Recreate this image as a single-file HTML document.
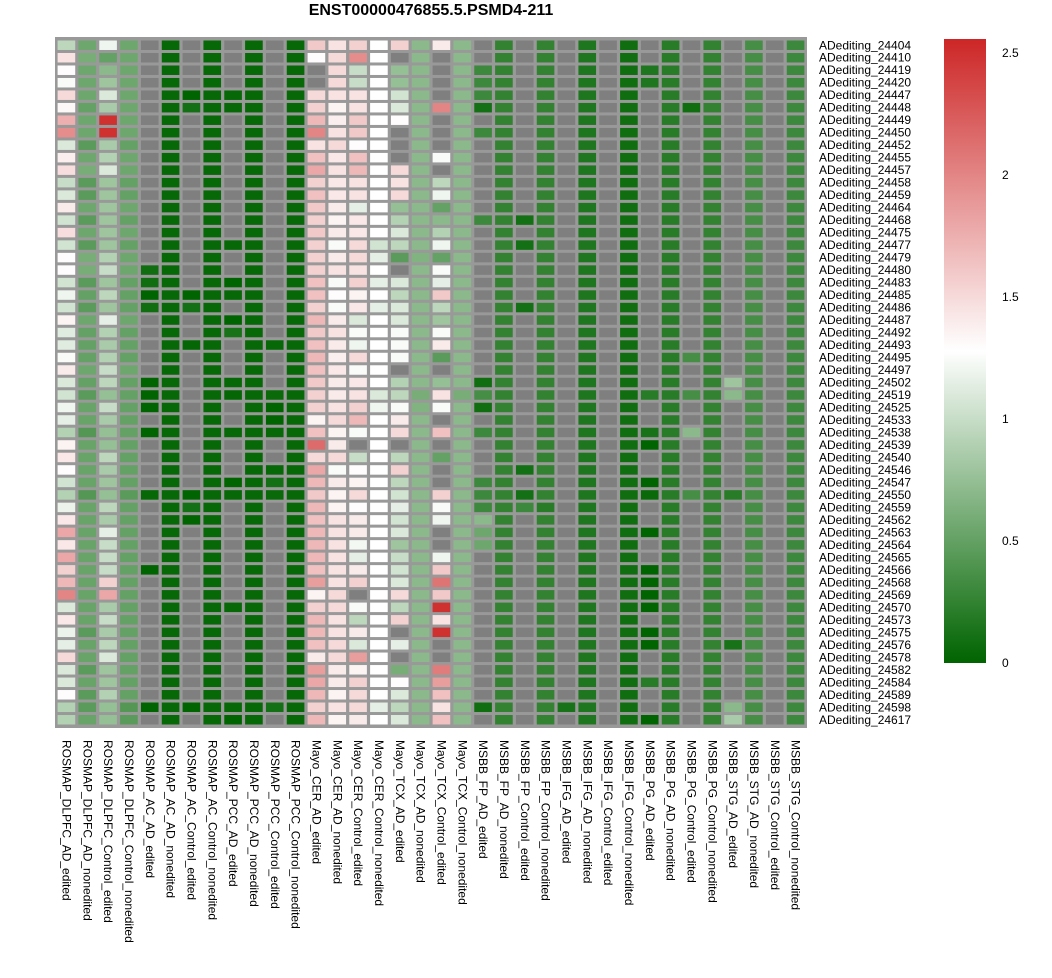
<!DOCTYPE html>
<html><head><meta charset="utf-8"><style>
html,body{margin:0;padding:0;background:#fff;}
svg{display:block;font-family:"Liberation Sans",Arial,sans-serif;}
</style></head><body>
<svg id="chart" width="1052" height="978" viewBox="0 0 1052 978">
<text x="431" y="15" text-anchor="middle" font-size="16" font-weight="bold" fill="#000">ENST00000476855.5.PSMD4-211</text>
<rect x="55" y="37" width="752" height="691" fill="#999999"/>
<g id="cells"></g><g id="rowlabels"></g><g id="collabels"></g><g id="legend"></g>
</svg>
<script>
const N = null;
const rowNames = ["ADediting_24404","ADediting_24410","ADediting_24419","ADediting_24420","ADediting_24447","ADediting_24448","ADediting_24449","ADediting_24450","ADediting_24452","ADediting_24455","ADediting_24457","ADediting_24458","ADediting_24459","ADediting_24464","ADediting_24468","ADediting_24475","ADediting_24477","ADediting_24479","ADediting_24480","ADediting_24483","ADediting_24485","ADediting_24486","ADediting_24487","ADediting_24492","ADediting_24493","ADediting_24495","ADediting_24497","ADediting_24502","ADediting_24519","ADediting_24525","ADediting_24533","ADediting_24538","ADediting_24539","ADediting_24540","ADediting_24546","ADediting_24547","ADediting_24550","ADediting_24559","ADediting_24562","ADediting_24563","ADediting_24564","ADediting_24565","ADediting_24566","ADediting_24568","ADediting_24569","ADediting_24570","ADediting_24573","ADediting_24575","ADediting_24576","ADediting_24578","ADediting_24582","ADediting_24584","ADediting_24589","ADediting_24598","ADediting_24617"];
const colNames = ["ROSMAP_DLPFC_AD_edited","ROSMAP_DLPFC_AD_nonedited","ROSMAP_DLPFC_Control_edited","ROSMAP_DLPFC_Control_nonedited","ROSMAP_AC_AD_edited","ROSMAP_AC_AD_nonedited","ROSMAP_AC_Control_edited","ROSMAP_AC_Control_nonedited","ROSMAP_PCC_AD_edited","ROSMAP_PCC_AD_nonedited","ROSMAP_PCC_Control_edited","ROSMAP_PCC_Control_nonedited","Mayo_CER_AD_edited","Mayo_CER_AD_nonedited","Mayo_CER_Control_edited","Mayo_CER_Control_nonedited","Mayo_TCX_AD_edited","Mayo_TCX_AD_nonedited","Mayo_TCX_Control_edited","Mayo_TCX_Control_nonedited","MSBB_FP_AD_edited","MSBB_FP_AD_nonedited","MSBB_FP_Control_edited","MSBB_FP_Control_nonedited","MSBB_IFG_AD_edited","MSBB_IFG_AD_nonedited","MSBB_IFG_Control_edited","MSBB_IFG_Control_nonedited","MSBB_PG_AD_edited","MSBB_PG_AD_nonedited","MSBB_PG_Control_edited","MSBB_PG_Control_nonedited","MSBB_STG_AD_edited","MSBB_STG_AD_nonedited","MSBB_STG_Control_edited","MSBB_STG_Control_nonedited"];
const legendTicks = [0,0.5,1,1.5,2,2.5];
const legendTickLabels = ["0","0.5","1","1.5","2","2.5"];
const colValues = [
[0.95,1.45,1.3,1.25,1.5, 1.32,1.75,1.95,1.1,1.38, 1.48,1.0,1.1,1.4,1.05, 1.48,1.05,1.3,1.3,1.05, 1.2,1.05,1.35,1.12,1.12, 1.25,1.4,1.1,1.05,1.2, 1.15,0.9,1.35,1.42,1.3, 1.05,0.9,1.18,1.42,1.8, 1.42,1.8,1.55,1.7,2.0, 1.1,1.42,1.18,1.15,1.5, 1.1,1.1,1.3,0.9,0.9],
[.55,.6,.55,.55,.55, .5,.55,.55,.45,.55, .6,.45,.45,.55,.45, .55,.45,.6,.6,.45, .5,.45,.55,.5,.5, .5,.55,.5,.45,.52, .52,.42,.52,.52,.52, .52,.42,.52,.52,.52, .52,.52,.52,.52,.52, .52,.52,.45,.52,.52, .45,.52,.45,.45,.52].concat([]).slice(0,55),
[1.2,.5,.7,.8,1.1, .85,2.5,2.5,.85,.9, 1.1,.8,.8,.8,.8, .8,.8,.9,1.0,.8, .95,.8,1.15,.9,.85, .9,1.0,.95,.75,1.0, .85,.75,.75,.95,.85, .8,.75,.95,.85,1.15, 1.0,1.0,1.0,1.55,1.8, .85,1.0,.85,.95,1.1, .8,.8,.9,.75,.75],
[.55,.55,.55,.55,.55, .55,.55,.55,.5,.55, .55,.5,.5,.55,.5, .55,.5,.55,.55,.5, .5,.5,.55,.5,.5, .5,.55,.5,.5,.5, .5,.5,.5,.5,.5, .5,.45,.5,.5,.5, .5,.5,.5,.5,.5, .5,.5,.5,.5,.5, .5,.5,.5,.42,.45],
[N,N,N,N,N, N,N,N,N,N, N,N,N,N,N, N,N,N,.08,.08, 0,.08,N,N,N, N,N,0,0,0, N,0,N,N,N, N,.03,N,N,N, N,N,0,N,N, N,N,N,N,N, N,N,N,0,N],
[.03,.03,.03,.03,.03, .03,.03,.03,.03,.03, .03,.03,.03,.03,.03, .03,.03,.03,.03,.03, .03,.03,.03,.03,.03, .03,.03,.03,.03,.03, .03,.03,.03,.03,.03, .03,.03,.03,.03,.03, .03,.03,.03,.03,.03, .03,.03,.03,.03,.03, .03,.03,.03,.03,.03],
[N,N,N,N,0, .1,N,N,N,N, N,N,N,N,N, N,N,N,N,N, 0,.1,N,N,.02, N,N,N,N,N, N,N,N,N,N, N,0,.1,0,N, N,N,N,N,N, N,N,N,N,N, N,N,N,0,N],
[.03,.03,.03,.03,.03, .03,.03,.03,.03,.03, .03,.03,.03,.03,.03, .03,.03,.03,.03,.03, .03,.03,.03,.03,.03, .03,.03,.03,.03,.03, .03,.03,.03,.03,.03, .03,.03,.03,.03,.03, .03,.03,.03,.03,.03, .03,.03,.03,.03,.03, .03,.03,.03,.03,.03],
[N,N,N,N,.03, .03,N,N,N,N, N,N,N,N,N, N,.03,N,N,0, .03,N,0,.12,N, N,N,.03,.02,N, N,.03,N,N,N, 0,.03,N,N,N, N,N,N,N,N, .03,N,N,N,N, N,N,N,.03,0],
[.03,.03,.03,.03,.03, .03,.03,.03,.03,.03, .03,.03,.03,.03,.03, .03,.03,.03,.03,.03, .03,.03,.03,.03,.03, .03,.03,.03,.03,.03, .03,.03,.03,.03,.03, .03,.03,.03,.03,.03, .03,.03,.03,.03,.03, .03,.03,.03,.03,.03, .03,.03,.03,.03,.03],
[N,N,N,N,N, N,N,N,N,N, N,N,N,N,N, N,N,N,N,N, N,N,N,N,.03, N,N,N,.05,0, 0,.03,N,N,.03, .1,.05,N,N,N, N,N,N,N,N, N,N,N,N,N, N,N,N,.1,N],
[.03,.03,.03,.03,.03, .03,.03,.03,.03,.03, .03,.03,.03,.03,.03, .03,.03,.03,.03,.03, .03,.03,.03,.03,.03, .03,.03,.03,.03,.03, .03,.03,.03,.03,.03, .03,.03,.03,.03,.03, .03,.03,.03,.03,.03, .03,.03,.03,.03,.03, .03,.03,.03,.03,.03],
[1.6,1.3,N,N,1.5, 1.55,1.7,2.0,1.45,1.65, 1.8,1.55,1.65,1.6,1.55, 1.6,1.55,1.55,1.55,1.65, 1.65,1.55,1.7,1.6,1.65, 1.7,1.65,1.6,1.55,1.55, 1.35,1.65,2.15,1.5,1.8, 1.7,1.6,1.7,1.65,1.7, 1.7,1.7,1.65,1.85,1.35, 1.55,1.7,1.7,1.65,1.4, 1.85,1.8,1.7,1.55,1.7],
[1.45,1.5,1.5,1.5,1.45, 1.35,1.38,1.45,1.5,1.42, 1.45,1.42,1.42,1.4,1.35, 1.4,1.25,1.4,1.45,1.25, 1.3,1.25,1.4,1.45,1.4, 1.38,1.42,1.4,1.4,1.45, 1.5,1.35,1.4,1.5,1.25, 1.4,1.35,1.35,1.45,1.45, 1.45,1.45,1.45,1.45,1.5, 1.5,1.45,1.45,1.5,1.5, 1.4,1.4,1.35,1.45,1.35],
[1.55,1.95,1.0,1.0,1.45, 1.45,1.6,1.6,1.3,1.65, 1.7,1.45,1.45,1.15,1.42, 1.42,1.5,1.5,1.45,1.55, 1.35,1.42,1.1,1.25,1.2, 1.5,1.25,1.42,1.45,1.55, 1.7,1.25,N,1.0,1.3, 1.35,1.5,1.3,1.4,1.4, 1.22,1.15,1.4,1.55,N, 1.25,0.95,1.4,1.1,1.85, 1.35,1.55,1.5,1.5,1.4],
[1.28,1.28,1.28,1.28,1.28, 1.28,1.28,1.28,1.28,1.28, 1.28,1.28,1.28,1.28,1.28, 1.28,1.05,1.15,1.28,1.15, 1.28,1.15,1.28,1.28,1.28, 1.28,1.28,1.28,1.1,1.2, 1.28,1.28,1.28,1.28,1.28, 1.28,1.28,1.28,1.28,1.28, 1.28,1.28,1.28,1.28,1.28, 1.28,1.28,1.28,1.28,1.28, 1.28,1.28,1.28,1.15,1.28],
[1.55,N,.75,.75,1.05, 1.1,1.3,N,N,N, 1.5,1.45,1.5,.75,.9, 1.1,.95,.45,N,1.1, .95,1.1,1.1,1.25,1.25, 1.25,N,.9,.95,1.25, 1.4,1.5,N,.95,1.55, .95,1.05,1.15,1.05,1.1, .8,1.0,1.05,1.1,1.5, .95,1.55,N,1.15,N, .6,1.3,1.1,.95,1.1],
[.7,.7,.7,.7,.7, .7,.7,.7,.7,.7, .7,.7,.7,.7,.7, .7,.7,.65,.7,.7, .7,.7,.7,.7,.7, .7,.7,.7,.6,.65, .7,.7,.7,.7,.7, .7,.7,.7,.7,.7, .7,.7,.7,.7,.7, .7,.7,.7,.7,.7, .7,.7,.7,.7,.7],
[1.4,N,N,N,N, 2.0,N,N,N,1.25, N,.95,1.2,.5,.7, .9,1.2,.5,1.25,1.15, 1.6,.95,.8,1.25,1.4, .45,N,.75,1.45,1.25, N,1.65,N,.5,N, N,1.55,1.25,1.2,N, N,1.2,1.6,2.1,1.6, 2.5,1.45,2.5,N,N, 2.05,1.85,1.65,1.45,1.65],
[.7,.7,.7,.7,.7, .7,.7,.7,.7,.7, .7,.7,.7,.7,.7, .7,.7,.7,.7,.7, .7,.7,.7,.7,.7, .7,.7,.7,.6,.7, .7,.7,.7,.7,.7, .7,.7,.7,.7,.7, .7,.7,.7,.7,.7, .7,.7,.7,.7,.7, .7,.7,.7,.7,.7],
[N,N,.3,.3,.3, .1,N,.3,N,N, N,N,N,N,.3, N,N,N,N,N, N,N,N,N,N, N,N,.08,.35,.08, N,.3,N,N,N, .3,.3,.3,.7,.55, .55,N,N,N,N, N,N,N,N,N, N,N,N,.08,N],
[.25,.25,.25,.25,.25, .25,.25,.25,.25,.25, .25,.25,.25,.25,.25, .25,.25,.25,.25,.25, .25,.25,.25,.25,.25, .25,.25,.25,.25,.25, .25,.25,.25,.25,.25, .25,.25,.25,.25,.25, .25,.25,.25,.25,.25, .25,.25,.25,.25,.25, .25,.25,.25,.25,.25],
[N,N,N,N,N, N,N,N,N,N, N,N,N,N,.1, N,.1,N,N,N, N,.1,N,N,N, N,N,N,N,N, N,N,N,N,.1, N,.1,.3,N,N, N,N,N,N,N, N,N,N,N,N, N,N,N,N,N],
[.25,.25,.25,.25,.25, .25,.25,.25,.25,.25, .25,.25,.25,.25,.25, .25,.25,.25,.25,.25, .25,.25,.25,.25,.25, .25,.25,.25,.25,.25, .25,.25,.25,.25,.25, .25,.25,.2,.25,.25, .25,.25,.25,.25,.25, .25,.25,.25,.25,.25, .25,.25,.25,.25,.25],
[N,N,N,N,N, N,N,N,N,N, N,N,N,N,N, N,N,N,N,N, N,N,N,N,N, N,N,N,N,N, N,N,N,N,N, N,N,N,N,N, N,N,N,N,N, N,N,N,N,N, N,N,N,.12,N],
[.15,.15,.15,.15,.15, .15,.15,.15,.15,.15, .15,.15,.15,.15,.15, .15,.15,.15,.15,.15, .15,.15,.15,.15,.15, .15,.15,.15,.15,.15, .15,.15,.15,.15,.15, .15,.15,.15,.15,.15, .15,.15,.15,.15,.15, .15,.15,.15,.15,.15, .15,.15,.15,.15,.15],
[N,N,N,N,N, N,N,N,N,N, N,N,N,N,N, N,N,N,N,N, N,N,N,N,N, N,N,N,N,N, N,N,N,N,N, N,N,N,N,N, N,N,N,N,N, N,N,N,N,N, N,N,N,N,N],
[.08,.08,.08,.08,.08, .08,.08,.08,.08,.08, .08,.08,.08,.08,.08, .08,.08,.08,.08,.08, .08,.08,.08,.08,.08, .08,.08,.08,.08,.08, .08,.08,.08,.08,.08, .08,.08,.08,.08,.08, .08,.08,.08,.08,.08, .08,.08,.08,.08,.08, .08,.08,.08,.08,.08],
[N,N,.15,.15,N, N,N,N,N,N, N,N,N,N,N, N,N,N,N,N, N,N,N,N,N, N,N,N,.2,N, N,.12,0,N,N, 0,.05,N,N,0, N,N,0,0,0, 0,N,0,0,N, N,.2,N,N,0],
[.2,.2,.2,.2,.2, .2,.2,.2,.2,.2, .2,.2,.2,.2,.2, .2,.2,.2,.2,.2, .2,.2,.2,.2,.2, .2,.2,.2,.2,.2, .2,.2,.2,.2,.2, .2,.2,.2,.2,.2, .2,.2,.2,.2,.2, .2,.2,.2,.2,.2, .2,.2,.2,.2,.2],
[N,N,N,N,N, .08,N,N,N,N, N,N,N,N,N, N,N,N,N,N, N,N,N,N,N, .35,N,N,.35,N, N,.7,N,N,N, N,.35,N,N,N, N,N,N,N,N, N,N,N,N,N, N,N,N,N,N],
[.25,.25,.25,.25,.25, .25,.25,.25,.25,.25, .25,.25,.25,.25,.25, .25,.25,.25,.25,.25, .25,.25,.25,.25,.25, .25,.25,.25,.25,.25, .25,.25,.25,.25,.25, .25,.25,.25,.25,.25, .25,.25,.25,.25,.25, .25,.25,.25,.25,.25, .25,.25,.25,.25,.25],
[N,N,N,N,N, N,N,N,N,N, N,N,N,N,N, N,N,N,N,N, N,N,N,N,N, N,N,.8,.7,N, N,N,N,N,N, N,.2,N,N,N, N,N,N,N,N, N,N,N,.12,N, N,N,N,.7,.85],
[.35,.35,.35,.35,.35, .35,.35,.35,.35,.35, .35,.35,.35,.35,.35, .35,.35,.35,.35,.35, .35,.35,.35,.35,.35, .35,.35,.35,.35,.35, .35,.35,.35,.35,.35, .35,.35,.35,.35,.35, .35,.35,.35,.35,.35, .35,.35,.35,.35,.35, .35,.35,.35,.35,.35],
[N,N,N,N,N, N,N,N,N,N, N,N,N,N,N, N,N,N,N,N, N,N,N,N,N, N,N,N,N,N, N,N,N,N,N, N,N,N,N,N, N,N,N,N,N, N,N,N,N,N, N,N,N,N,N],
[.3,.3,.3,.3,.3, .3,.3,.3,.3,.3, .3,.3,.3,.3,.3, .3,.3,.3,.3,.3, .3,.3,.3,.3,.3, .3,.3,.3,.3,.3, .3,.3,.3,.3,.3, .3,.3,.3,.3,.3, .3,.3,.3,.3,.3, .3,.3,.3,.3,.3, .3,.3,.3,.3,.3]
];

const NS = "http://www.w3.org/2000/svg";
const gx0 = 56, gx1 = 806, gy0 = 39, gy1 = 726;
const cw = (gx1 - gx0) / colNames.length, rh = (gy1 - gy0) / rowNames.length;
const vMid = 1.28, vMax = 2.557;
function xPos(c){ return gx0 + c * cw; }
function yPos(r){ return gy0 + r * rh; }
function color(v){
  let r,g,b;
  if (v <= vMid){ const t = Math.max(0, v / vMid); r = 255*t; g = 100 + 155*t; b = 255*t; }
  else { const s = Math.min(1, (v - vMid) / (vMax - vMid)); r = 255 - 50*s; g = 255 - 217*s; b = 255 - 217*s; }
  return `rgb(${Math.round(r)},${Math.round(g)},${Math.round(b)})`;
}
function mk(tag, attrs, parent){ const e = document.createElementNS(NS, tag); for (const k in attrs) e.setAttribute(k, attrs[k]); parent.appendChild(e); return e; }

const cells = document.getElementById('cells');
colValues.forEach((col, c) => {
  col.forEach((v, r) => {
    const el = mk('rect', {x: (xPos(c)+1.6).toFixed(2), y: (yPos(r)+1.5).toFixed(2), width: (cw-3.2).toFixed(2), height: (rh-3).toFixed(2), fill: v === null ? '#7f7f7f' : color(v)}, cells);
    
    
  });
});

const rl = document.getElementById('rowlabels');
rowNames.forEach((n, r) => {
  const t = mk('text', {x: 819, y: (yPos(r) + rh/2).toFixed(2), 'font-size': 12, 'dominant-baseline': 'central', fill: '#000'}, rl);
  t.textContent = n;
  
  
});

const cl = document.getElementById('collabels');
colNames.forEach((n, c) => {
  const cx = xPos(c) + cw/2;
  const t = mk('text', {x: 0, y: 0, 'font-size': 12, 'dominant-baseline': 'central', fill: '#000', transform: `translate(${cx.toFixed(2)},740) rotate(90)`}, cl);
  t.textContent = n;
  
  
});

const lg = document.getElementById('legend');
const defs = mk('defs', {}, lg);
const grad = mk('linearGradient', {id: 'lgGrad', x1: 0, y1: 0, x2: 0, y2: 1}, defs);
const lgTop = 39, lgBot = 663;
for (let i = 0; i <= 20; i++){
  const v = vMax * (1 - i/20);
  mk('stop', {offset: (i/20).toFixed(3), 'stop-color': color(v)}, grad);
}
const bar = mk('rect', {x: 944, y: lgTop, width: 42, height: lgBot - lgTop, fill: 'url(#lgGrad)'}, lg);


function lgY(v){ return lgBot - (v / vMax) * (lgBot - lgTop); }
legendTicks.forEach((v, i) => {
  const t = mk('text', {x: 1002, y: lgY(v).toFixed(2), 'font-size': 12, 'dominant-baseline': 'central', fill: '#000'}, lg);
  t.textContent = legendTickLabels[i];
  
  
});
</script>
</body></html>
